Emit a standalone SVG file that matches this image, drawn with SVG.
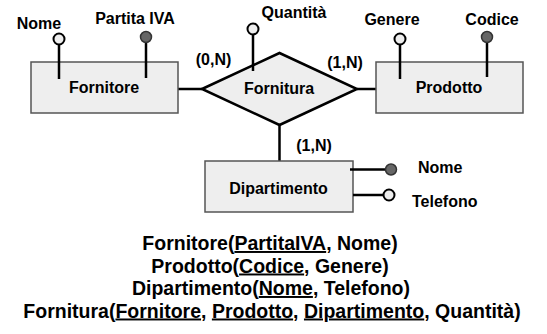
<svg xmlns="http://www.w3.org/2000/svg" width="547" height="334" viewBox="0 0 547 334">
<style>
text{font-family:"Liberation Sans",Arial,sans-serif;font-weight:bold;fill:#000}
.lbl{font-size:16px}
.rel{font-size:19.5px}
.box{fill:#eeeeee;stroke:#555;stroke-width:1.5}
.dia{fill:#eeeeee;stroke:#000;stroke-width:2.5;stroke-linejoin:miter}
.ln{stroke:#000;stroke-width:2.5;fill:none}
.open{fill:#eeeeee;stroke:#000;stroke-width:2}
.key{fill:#666;stroke:#333;stroke-width:1.5}
.u{text-decoration:underline}
</style>
<rect width="547" height="334" fill="#fff"/>
<g id="connectors">
<line class="ln" x1="160" y1="89" x2="202" y2="89"/>
<line class="ln" x1="357" y1="89" x2="385" y2="89"/>
<line class="ln" x1="279.5" y1="125" x2="279.5" y2="168"/>
</g>
<g id="fornitore">
<rect class="box" x="31" y="62" width="147" height="51"/>
<text class="lbl" x="104" y="93" text-anchor="middle">Fornitore</text>
</g>
<g id="attr-fornitore-nome">
<line class="ln" x1="59" y1="44" x2="59" y2="79"/>
<circle class="open" cx="59" cy="39" r="5.5"/>
<text class="lbl" x="39" y="29" text-anchor="middle">Nome</text>
</g>
<g id="attr-fornitore-piva">
<line class="ln" x1="146" y1="42" x2="146" y2="78"/>
<circle class="key" cx="146" cy="37" r="5.5"/>
<text class="lbl" x="135" y="24" text-anchor="middle">Partita IVA</text>
</g>
<g id="fornitura">
<polygon class="dia" points="202,89 279.5,53 357,89 279.5,125"/>
<text class="lbl" x="279" y="94" text-anchor="middle">Fornitura</text>
<text class="lbl" x="213.5" y="65" text-anchor="middle">(0,N)</text>
<text class="lbl" x="345" y="68" text-anchor="middle">(1,N)</text>
<text class="lbl" x="314" y="151" text-anchor="middle">(1,N)</text>
</g>
<g id="attr-fornitura-quantita">
<line class="ln" x1="253" y1="34" x2="253" y2="71"/>
<circle class="open" cx="253" cy="29" r="5.5"/>
<text class="lbl" x="294" y="18" text-anchor="middle">Quantità</text>
</g>
<g id="prodotto">
<rect class="box" x="376" y="62" width="147" height="51"/>
<text class="lbl" x="449" y="93" text-anchor="middle">Prodotto</text>
</g>
<g id="attr-prodotto-genere">
<line class="ln" x1="400" y1="44" x2="400" y2="79"/>
<circle class="open" cx="400" cy="39" r="5.5"/>
<text class="lbl" x="392" y="25" text-anchor="middle">Genere</text>
</g>
<g id="attr-prodotto-codice">
<line class="ln" x1="487" y1="42" x2="487" y2="77"/>
<circle class="key" cx="487" cy="37" r="5.5"/>
<text class="lbl" x="492" y="25" text-anchor="middle">Codice</text>
</g>
<g id="dipartimento">
<rect class="box" x="205" y="161" width="148" height="51"/>
<text class="lbl" x="278.5" y="194" text-anchor="middle">Dipartimento</text>
</g>
<g id="attr-dipartimento-nome">
<line class="ln" x1="350" y1="169.5" x2="386" y2="169.5"/>
<circle class="key" cx="391" cy="169.5" r="5.5"/>
<text class="lbl" x="418" y="173">Nome</text>
</g>
<g id="attr-dipartimento-telefono">
<line class="ln" x1="353" y1="195" x2="384" y2="195"/>
<circle class="open" cx="389" cy="195" r="5.5"/>
<text class="lbl" x="412" y="207">Telefono</text>
</g>
<g id="schema">
<text class="rel" x="270" y="250" text-anchor="middle">Fornitore(<tspan class="u">PartitaIVA</tspan>, Nome)</text>
<text class="rel" x="270" y="272.5" text-anchor="middle">Prodotto(<tspan class="u">Codice</tspan>, Genere)</text>
<text class="rel" x="271" y="295" text-anchor="middle">Dipartimento(<tspan class="u">Nome</tspan>, Telefono)</text>
<text class="rel" x="272" y="317.5" text-anchor="middle">Fornitura(<tspan class="u">Fornitore</tspan>, <tspan class="u">Prodotto</tspan>, <tspan class="u">Dipartimento</tspan>, Quantità)</text>
</g>
</svg>
